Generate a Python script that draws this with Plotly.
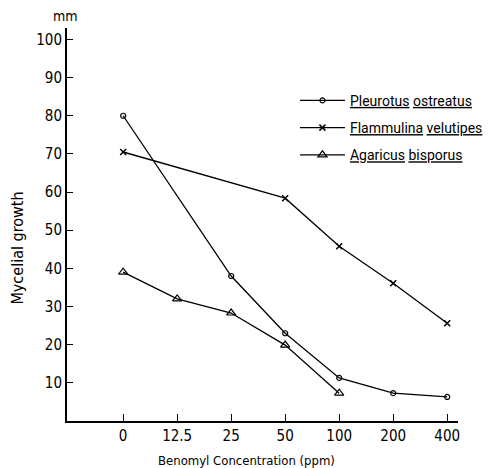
import plotly.graph_objects as go

concentrations = ["0", "12.5", "25", "50", "100", "200", "400"]

pleurotus_x = ["0", "25", "50", "100", "200", "400"]
pleurotus_y = [80, 38, 23, 11.3, 7.3, 6.3]

flammulina_x = ["0", "50", "100", "200", "400"]
flammulina_y = [70.5, 58.4, 45.8, 36.1, 25.6]

agaricus_x = ["0", "12.5", "25", "50", "100"]
agaricus_y = [39, 32, 28.3, 19.9, 7.3]

y_ticks = [10, 20, 30, 40, 50, 60, 70, 80, 90, 100]

FONT = "Liberation Sans Narrow, DejaVu Sans Condensed, Arial Narrow, DejaVu Sans, sans-serif"

fig = go.Figure()
line = dict(color="black", width=1.3)
fig.add_trace(go.Scatter(
    x=pleurotus_x, y=pleurotus_y, mode="lines+markers",
    name="<u>Pleurotus</u> <u>ostreatus</u>", legendgroup="a",
    line=line, marker=dict(symbol="circle-open", size=5, color="black", line=dict(width=1.2)),
))
fig.add_trace(go.Scatter(
    x=flammulina_x, y=flammulina_y, mode="lines+markers",
    name="<u>Flammulina</u> <u>velutipes</u>", legendgroup="b",
    line=line, marker=dict(symbol="x-thin-open", size=6, color="black", line=dict(width=1.5, color="black")),
))
fig.add_trace(go.Scatter(
    x=agaricus_x, y=agaricus_y, mode="lines+markers",
    name="<u>Agaricus</u> <u>bisporus</u>", legendgroup="c",
    line=line, marker=dict(symbol="triangle-up-open", size=8, color="black", line=dict(width=1.2)),
))

fig.update_layout(
    width=488, height=460,
    margin=dict(l=59, r=38, t=20, b=47, autoexpand=False),
    paper_bgcolor="white", plot_bgcolor="white",
    font=dict(family=FONT, size=15, color="black"),
    showlegend=True,
    legend=dict(x=0.588, y=0.833, xref="container", yref="container",
                xanchor="left", yanchor="top",
                bgcolor="rgba(0,0,0,0)", font=dict(size=14, family="Roboto, DejaVu Sans, sans-serif"),
                itemwidth=45,
                traceorder="grouped", tracegroupgap=6),
    xaxis=dict(
        type="category", categoryorder="array", categoryarray=concentrations,
        range=[-1.04, 6.2], showgrid=False, zeroline=False,
        showline=True, linecolor="black", linewidth=2,
        ticks="inside", ticklen=7, tickcolor="black", tickwidth=1.3,
        tickfont=dict(size=15),
    ),
    yaxis=dict(
        range=[0, 103], tickvals=y_ticks, showgrid=False, zeroline=False,
        showline=True, linecolor="black", linewidth=2,
        ticks="inside", ticklen=6, tickcolor="black", tickwidth=1.3,
        tickfont=dict(size=15),
    ),
    annotations=[
        dict(text="mm", x=0, xref="paper", xanchor="center", xshift=-2, y=1.0, yref="paper",
             yanchor="middle", yshift=12, showarrow=False, font=dict(size=14)),
        dict(text="Benomyl Concentration (ppm)", x=0.458, xref="paper", xanchor="center",
             y=0, yref="paper", yanchor="middle", yshift=-39, showarrow=False, font=dict(size=13)),
        dict(text="Mycelial growth", x=0, xref="paper", xanchor="right", xshift=-38,
             y=0.44, yref="paper", yanchor="middle", textangle=-90, showarrow=False,
             font=dict(size=16)),
    ],
)

fig.write_html("out.html")
